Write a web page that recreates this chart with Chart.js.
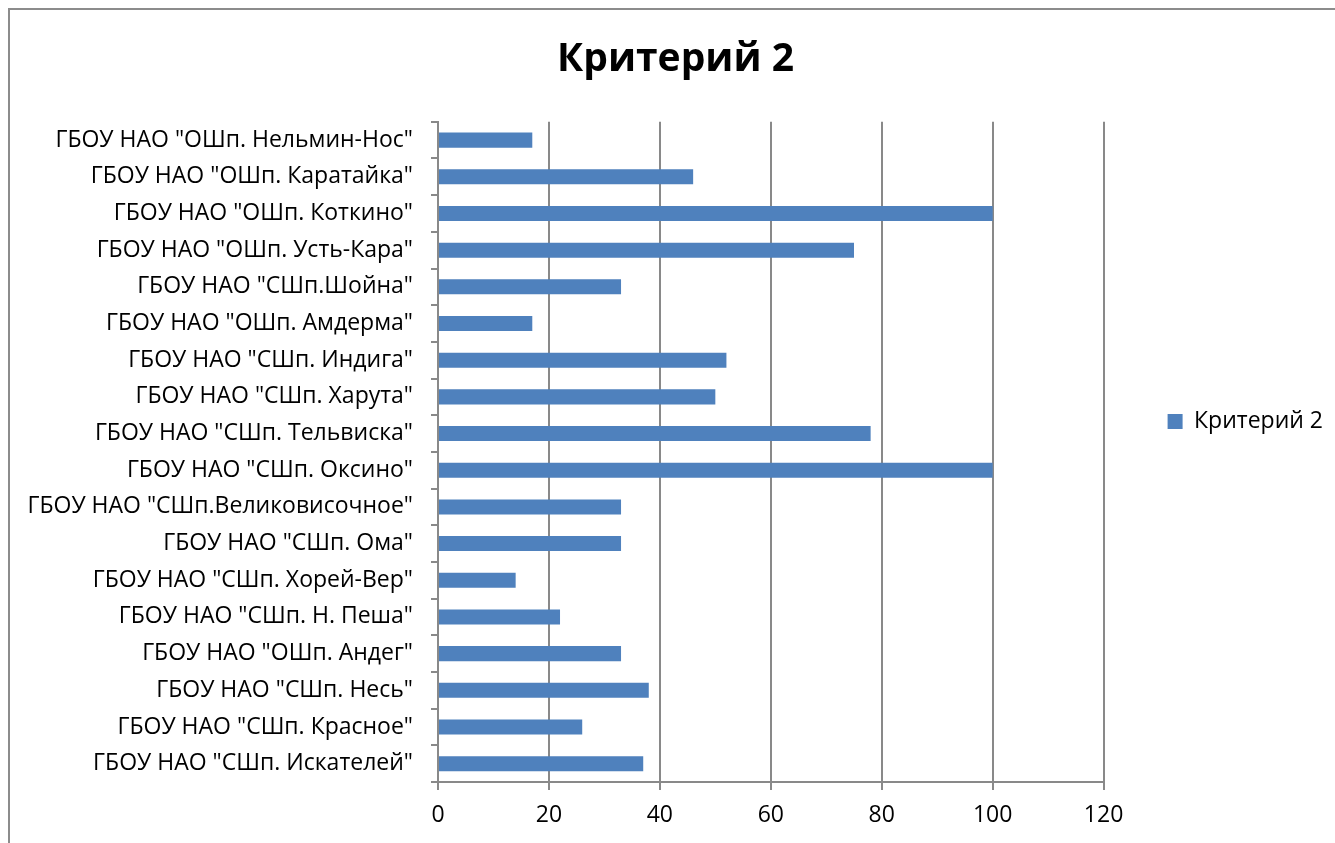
<!DOCTYPE html>
<html>
<head>
<meta charset="utf-8">
<script src="https://cdn.jsdelivr.net/npm/chart.js@4"></script>
<style>
  html, body { margin: 0; padding: 0; background: #fff; }
  #wrap { width: 1335px; height: 843px; position: relative; }
</style>
</head>
<body>
<div id="wrap"><canvas id="chart"></canvas></div>
<script>
// Data, top to bottom
const schools = [
  'ГБОУ НАО "ОШп. Нельмин-Нос"',
  'ГБОУ НАО "ОШп. Каратайка"',
  'ГБОУ НАО "ОШп. Коткино"',
  'ГБОУ НАО "ОШп. Усть-Кара"',
  'ГБОУ НАО "СШп.Шойна"',
  'ГБОУ НАО "ОШп. Амдерма"',
  'ГБОУ НАО "СШп. Индига"',
  'ГБОУ НАО "СШп. Харута"',
  'ГБОУ НАО "СШп. Тельвиска"',
  'ГБОУ НАО "СШп. Оксино"',
  'ГБОУ НАО "СШп.Великовисочное"',
  'ГБОУ НАО "СШп. Ома"',
  'ГБОУ НАО "СШп. Хорей-Вер"',
  'ГБОУ НАО "СШп. Н. Пеша"',
  'ГБОУ НАО "ОШп. Андег"',
  'ГБОУ НАО "СШп. Несь"',
  'ГБОУ НАО "СШп. Красное"',
  'ГБОУ НАО "СШп. Искателей"'
];
const criterion2 = [17, 46, 100, 75, 33, 17, 52, 50, 78, 100, 33, 33, 14, 22, 33, 38, 26, 37];
const seriesName = 'Критерий 2';
const xMin = 0, xMax = 120, xStep = 20;

const fontFamily = '"Open Sans", "Noto Sans", sans-serif';
const gridGray = '#898989';

// gray outer frame like the Excel chart border
const framePlugin = {
  id: 'frame',
  beforeDraw(chart) {
    const ctx = chart.ctx;
    ctx.save();
    ctx.strokeStyle = '#8c8c8c';
    ctx.lineWidth = 2;
    ctx.strokeRect(9, 9, chart.width + 20, chart.height + 20);
    ctx.restore();
  }
};

const ctx = document.getElementById('chart').getContext('2d');
new Chart(ctx, {
  type: 'bar',
  data: {
    labels: schools,
    datasets: [{
      label: seriesName,
      data: criterion2,
      backgroundColor: '#4F81BD',
      borderWidth: 0,
      barPercentage: 0.41,
      categoryPercentage: 1.0
    }]
  },
  options: {
    indexAxis: 'y',
    responsive: true,
    maintainAspectRatio: false,
    animation: false,
    layout: { padding: { left: 18, right: 2, top: 0, bottom: 0 } },
    scales: {
      x: {
        min: xMin,
        max: xMax,
        ticks: {
          stepSize: xStep,
          color: '#000',
          padding: 12,
          font: { family: fontFamily, size: 23 }
        },
        grid: {
          color: gridGray,
          lineWidth: 2,
          tickLength: 8,
          drawTicks: true
        },
        border: { color: gridGray, width: 2 },
        afterFit(scale) { scale.height = 61; }
      },
      y: {
        offset: true,
        ticks: {
          color: '#000',
          padding: 18,
          autoSkip: false,
          font: { family: fontFamily, size: 23 }
        },
        grid: {
          offset: true,
          drawOnChartArea: false,
          color: gridGray,
          lineWidth: 2,
          tickLength: 7
        },
        border: { color: gridGray, width: 2 },
        afterFit(scale) { scale.width = 438 - 18; }
      }
    },
    plugins: {
      title: {
        display: true,
        text: seriesName,
        color: '#000',
        font: { family: fontFamily, size: 39, weight: 'bold' },
        padding: { top: 36, bottom: 39 }
      },
      legend: {
        position: 'right',
        labels: {
          color: '#000',
          boxWidth: 15,
          boxHeight: 15,
          padding: 64,
          font: { family: fontFamily, size: 23 }
        }
      },
      tooltip: { enabled: false }
    }
  },
  plugins: [framePlugin]
});
</script>
</body>
</html>
